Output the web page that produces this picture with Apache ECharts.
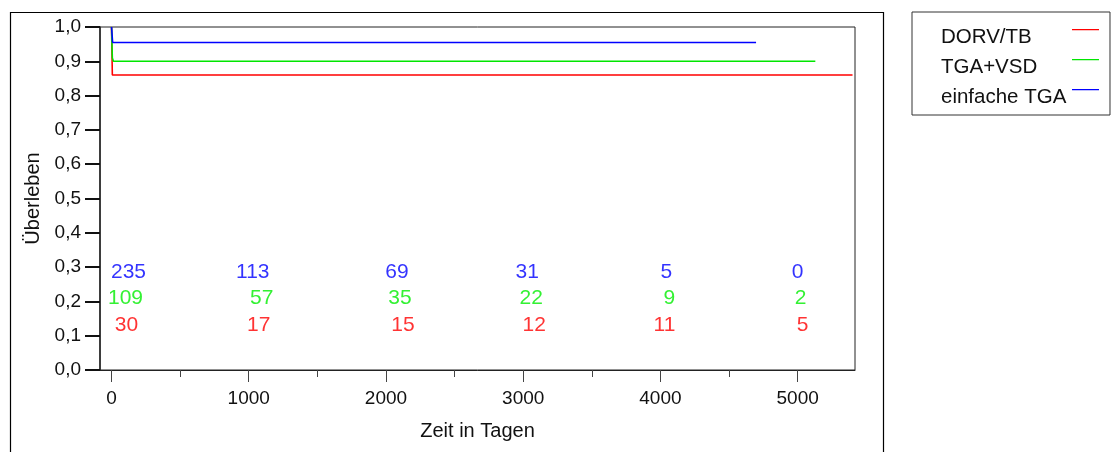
<!DOCTYPE html>
<html>
<head>
<meta charset="utf-8">
<title>Überleben</title>
<script src="https://cdn.jsdelivr.net/npm/echarts@6/dist/echarts.min.js"></script>
<style>
  html, body { margin: 0; padding: 0; background: #fff; }
  #chart { width: 1111px; height: 452px; }
</style>
</head>
<body>
<div id="chart"></div>
<script>
// Kaplan-Meier Kurven (Tage, Überleben)
var seriesNames = ['DORV/TB', 'TGA+VSD', 'einfache TGA']
var dorvCurve = [[0, 1.0], [6, 0.86], [5400, 0.86]]
var tgaVsdCurve = [[0, 1.0], [6, 0.91], [14, 0.90], [5129, 0.90]]
var tgaCurve = [[0, 1.0], [8, 0.955], [4697, 0.955]]

// Patienten unter Risiko
var riskTimes = [0, 1000, 2000, 3000, 4000, 5000]
var riskDorv = [30, 17, 15, 12, 11, 5]
var riskTgaVsd = [109, 57, 35, 22, 9, 2]
var riskTga = [235, 113, 69, 31, 5, 0]

var xTicks = [0, 1000, 2000, 3000, 4000, 5000]
var xMinorTicks = [500, 1500, 2500, 3500, 4500]

var colors = ['#ff0000', '#00e600', '#0000ff']
var font = 'Liberation Sans, Arial, Helvetica, sans-serif'

function riskSeries(counts, rowY, color, dx) {
  return {
    type: 'scatter',
    symbolSize: 0,
    silent: true,
    z: 5,
    data: riskTimes.map(function (t, i) {
      return {
        value: [t, rowY, counts[i]],
        label: { offset: [dx[i], 0] }
      }
    }),
    label: {
      show: true,
      position: 'inside',
      color: color,
      fontSize: 21,
      fontFamily: font,
      formatter: function (p) { return p.value[2] }
    }
  }
}

function curveSeries(name, data, color) {
  return {
    name: name,
    type: 'line',
    step: 'end',
    showSymbol: false,
    silent: true,
    data: data,
    color: color,
    lineStyle: { color: color, width: 1.6 }
  }
}

var chart = echarts.init(document.getElementById('chart'))
chart.setOption({
  animation: false,
  textStyle: { fontFamily: font },
  graphic: [{
    type: 'rect',
    shape: { x: 10.5, y: 12.5, width: 873, height: 470 },
    style: { fill: 'none', stroke: '#000', lineWidth: 1.2 }
  }],
  grid: {
    left: 100,
    top: 27,
    right: 256,
    bottom: 82,
    show: true,
    borderColor: '#222',
    borderWidth: 1
  },
  legend: {
    orient: 'vertical',
    left: 912,
    top: 12,
    align: 'right',
    // Linie oben im Symbolfeld, damit sie etwas über der Textmitte liegt
    icon: 'path://M0,0H27V1.2H0Z M0,16H27V16.01H0Z',
    itemWidth: 27,
    itemHeight: 16,
    itemGap: 9,
    padding: [14.5, 11, 7.5, 29],
    borderColor: '#333',
    borderWidth: 1,
    data: seriesNames,
    formatter: '{a|{name}}',
    textStyle: {
      color: '#111',
      fontSize: 20.5,
      lineHeight: 21,
      rich: {
        a: { width: 126, align: 'left', fontSize: 20.5, lineHeight: 21, color: '#111' }
      }
    }
  },
  xAxis: [{
    type: 'value',
    min: -84,
    max: 5418,
    name: 'Zeit in Tagen',
    nameLocation: 'middle',
    nameGap: 51,
    nameTextStyle: { color: '#111', fontSize: 20 },
    axisLine: { onZero: false, lineStyle: { color: '#222', width: 1 } },
    axisTick: {
      customValues: xTicks,
      length: 12,
      lineStyle: { color: '#444' }
    },
    axisLabel: {
      customValues: xTicks,
      color: '#111',
      fontSize: 19,
      margin: 19,
      formatter: function (v) { return String(v) }
    },
    splitLine: { show: false }
  }, {
    type: 'value',
    min: -84,
    max: 5418,
    position: 'bottom',
    axisLine: { show: false, onZero: false },
    axisTick: {
      customValues: xMinorTicks,
      length: 7,
      lineStyle: { color: '#444' }
    },
    axisLabel: { show: false },
    splitLine: { show: false }
  }],
  yAxis: {
    type: 'value',
    min: 0,
    max: 1,
    interval: 0.1,
    name: 'Überleben',
    nameLocation: 'middle',
    nameGap: 53,
    nameTextStyle: { color: '#111', fontSize: 20 },
    axisLine: { show: true, onZero: false, lineStyle: { color: '#222', width: 1.5 } },
    axisTick: { show: true, length: 15, lineStyle: { color: '#111', width: 2 } },
    axisLabel: {
      color: '#111',
      fontSize: 19,
      margin: 19,
      formatter: function (v) { return v.toFixed(1).replace('.', ',') }
    },
    splitLine: { show: false }
  },
  series: [
    curveSeries(seriesNames[0], dorvCurve, colors[0]),
    curveSeries(seriesNames[1], tgaVsdCurve, colors[1]),
    curveSeries(seriesNames[2], tgaCurve, colors[2]),
    riskSeries(riskTga, 0.285, '#0000ff', [17, 4, 11, 4, 6, 0]),
    riskSeries(riskTgaVsd, 0.21, '#00ee00', [14, 13, 14, 8, 9, 3]),
    riskSeries(riskDorv, 0.131, '#ff0000', [15, 10, 17, 11, 4, 5])
  ]
})
</script>
</body>
</html>
